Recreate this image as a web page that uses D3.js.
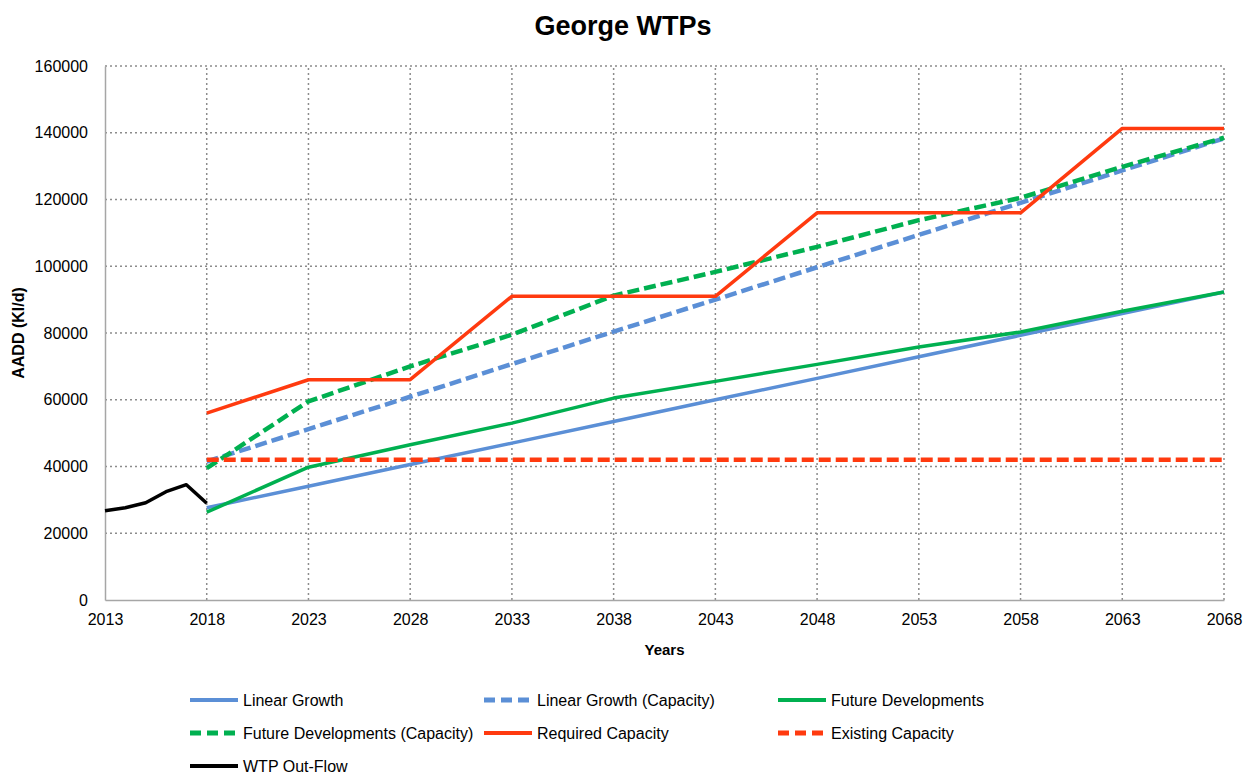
<!DOCTYPE html>
<html>
<head>
<meta charset="utf-8">
<script src="https://cdn.jsdelivr.net/npm/d3@7"></script>
<style>
  body { margin: 0; background: #fff; }
  svg { font-family: "Liberation Sans", Arial, sans-serif; }
</style>
</head>
<body>
<svg id="chart"></svg>
<script>
const width = 1259;
const height = 776;

// data
const years = [2018, 2023, 2028, 2033, 2038, 2043, 2048, 2053, 2058, 2063, 2068];
const outflowYears = [2013, 2014, 2015, 2016, 2017, 2018];
const outflow = [26760, 27650, 29150, 32450, 34550, 28970];
const linearGrowth = [27650, 34100, 40600, 47000, 53500, 60000, 66400, 72900, 79300, 85800, 92300];
const linearGrowthCap = [41500, 51200, 60900, 70700, 80400, 90000, 99700, 109400, 119000, 128700, 138300];
const futureDev = [26300, 39800, 46500, 53000, 60500, 65500, 70600, 75800, 80300, 86500, 92300];
const futureDevCap = [39500, 59500, 70000, 79500, 91200, 98300, 105800, 113800, 120500, 129800, 138500];
const requiredCap = [56000, 66000, 66000, 91000, 91000, 91000, 116000, 116000, 116000, 141300, 141300];
const existingCap = [42000, 42000, 42000, 42000, 42000, 42000, 42000, 42000, 42000, 42000, 42000];
const xTicks = [2013, 2018, 2023, 2028, 2033, 2038, 2043, 2048, 2053, 2058, 2063, 2068];
const yTicks = [0, 20000, 40000, 60000, 80000, 100000, 120000, 140000, 160000];

const series = [
    { name: "Linear Growth", x: years, y: linearGrowth, color: "#5b8fd6", dash: false },
    { name: "Linear Growth (Capacity)", x: years, y: linearGrowthCap, color: "#5b8fd6", dash: true },
    { name: "Future Developments", x: years, y: futureDev, color: "#00b050", dash: false },
    { name: "Future Developments (Capacity)", x: years, y: futureDevCap, color: "#00b050", dash: true },
    { name: "Required Capacity", x: years, y: requiredCap, color: "#ff3a0f", dash: false },
    { name: "Existing Capacity", x: years, y: existingCap, color: "#ff3a0f", dash: true },
    { name: "WTP Out-Flow", x: outflowYears, y: outflow, color: "#000000", dash: false }
];

const margin = { top: 66, right: 35, bottom: 176, left: 105 };
const svg = d3.select("#chart")
    .attr("width", width)
    .attr("height", height);

const x = d3.scaleLinear().domain([2013, 2068]).range([margin.left, width - margin.right]);
const y = d3.scaleLinear().domain([0, 160000]).range([height - margin.bottom, margin.top]);

// title
svg.append("text")
    .attr("x", 623).attr("y", 35)
    .attr("text-anchor", "middle")
    .attr("font-size", 27).attr("font-weight", "bold")
    .text("George WTPs");

// grid
const grid = svg.append("g").attr("stroke", "#8c8c8c").attr("stroke-width", 1.5).attr("stroke-dasharray", "2,3");
grid.selectAll(".h").data(yTicks.slice(1)).enter().append("line")
    .attr("x1", x(2013)).attr("x2", x(2068))
    .attr("y1", d => y(d)).attr("y2", d => y(d));
grid.selectAll(".v").data(xTicks.slice(1)).enter().append("line")
    .attr("y1", y(0)).attr("y2", y(160000))
    .attr("x1", d => x(d)).attr("x2", d => x(d));

// axes
const xAxis = svg.append("g")
    .attr("transform", `translate(0,${y(0)})`)
    .call(d3.axisBottom(x).tickValues(xTicks).tickFormat(d3.format("d")).tickSize(0).tickPadding(14));
const yAxis = svg.append("g")
    .attr("transform", `translate(${x(2013)},0)`)
    .call(d3.axisLeft(y).tickValues(yTicks).tickFormat(d3.format("d")).tickSize(0).tickPadding(17));
[xAxis, yAxis].forEach(a => {
    a.select(".domain").attr("stroke", "#a6a6a6").attr("stroke-width", 1.5);
    a.selectAll("text").attr("font-size", 16).attr("fill", "#000").attr("font-family", "Liberation Sans, Arial, sans-serif");
});

svg.append("text")
    .attr("x", x(2040.5)).attr("y", 655)
    .attr("text-anchor", "middle")
    .attr("font-size", 15).attr("font-weight", "bold")
    .text("Years");

svg.append("text")
    .attr("transform", `translate(24,${y(80000)}) rotate(-90)`)
    .attr("text-anchor", "middle")
    .attr("font-size", 16).attr("font-weight", "bold")
    .text("AADD (Kl/d)");

// lines
const line = d3.line().x(d => x(d[0])).y(d => y(d[1]));
svg.append("g").selectAll("path")
    .data(series)
    .enter().append("path")
    .attr("fill", "none")
    .attr("stroke", d => d.color)
    .attr("stroke-width", d => d.dash ? 4.5 : 3.5)
    .attr("stroke-dasharray", d => d.dash ? "12,5" : null)
    .attr("stroke-linejoin", "round")
    .attr("d", d => line(d.x.map((v, i) => [v, d.y[i]])));

// legend
const legendCols = [190, 484, 778];
const legendRows = [700, 733, 766];
const legend = svg.append("g").selectAll("g")
    .data(series)
    .enter().append("g")
    .attr("transform", (d, i) => `translate(${legendCols[i % 3]},${legendRows[Math.floor(i / 3)]})`);
legend.append("line")
    .attr("x1", 0).attr("x2", 48)
    .attr("stroke", d => d.color)
    .attr("stroke-width", d => d.dash ? 5 : 4)
    .attr("stroke-dasharray", d => d.dash ? "11,6" : null);
legend.append("text")
    .attr("x", 53).attr("y", 6)
    .attr("font-size", 16)
    .text(d => d.name);
</script>
</body>
</html>
